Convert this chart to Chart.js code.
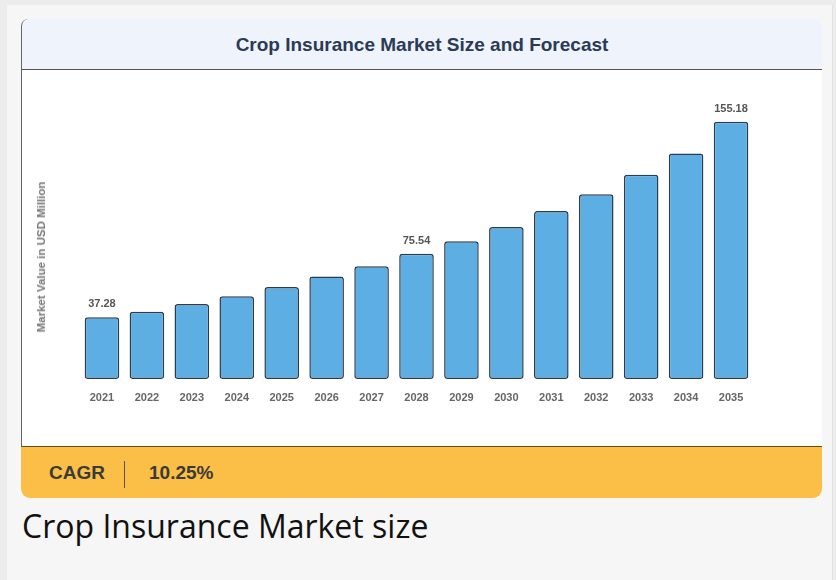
<!DOCTYPE html>
<html>
<head>
<meta charset="utf-8">
<script src="https://cdn.jsdelivr.net/npm/chart.js@4.4.1/dist/chart.umd.min.js"></script>
<style>
  html, body { margin: 0; padding: 0; }
  body { width: 836px; height: 580px; background: #ececec; overflow: hidden; position: relative; }
  .outer { position: absolute; left: 7px; top: 5px; width: 825px; height: 590px; background: #f6f6f6; border-right: 1px solid #e2e2e2; }
  .card { position: absolute; left: 14px; top: 14px; width: 801px; }
  .head { height: 50px; background: #eef3fc; border-radius: 7px 7px 0 0; border-bottom: 1.5px solid #555; border-left: 1.5px solid #666;
          font: bold 19px "Liberation Sans", Arial, sans-serif; color: #2b3a55; text-align: center; line-height: 52px; }
  .body { position: relative; height: 376px; background: #fff; border-left: 1.5px solid #666; }
  .foot { height: 51px; background: #fbbf47; border-top: 1.5px solid #6a4b1c; border-radius: 0 0 9px 9px; position: relative;
          font: bold 19px "Liberation Sans", Arial, sans-serif; color: #3a3a3a; }
  .foot .k { position: absolute; left: 28px; top: 15px; }
  .foot .sep { position: absolute; left: 103px; top: 14px; width: 1px; height: 27px; background: #555; }
  .foot .v { position: absolute; left: 128px; top: 15px; }
  .ytitle { position: absolute; left: 19px; top: 187px; transform: translate(-50%, -50%) rotate(-90deg);
            font: bold 11.5px "Liberation Sans", Arial, sans-serif; color: #777; white-space: nowrap; }
  canvas { position: absolute; left: 0; top: 0; }
  .caption { position: absolute; left: 15px; top: 499px; font: 32px "Open Sans", sans-serif; color: #111; }
</style>
</head>
<body>
<div class="outer">
  <div class="card">
    <div class="head">Crop Insurance Market Size and Forecast</div>
    <div class="body">
      <canvas id="c" width="800" height="376"></canvas>
      <div class="ytitle">Market Value in USD Million</div>
    </div>
    <div class="foot"><span class="k">CAGR</span><span class="sep"></span><span class="v">10.25%</span></div>
  </div>
  <div class="caption">Crop Insurance Market size</div>
</div>
<script>
const years = ['2021','2022','2023','2024','2025','2026','2027','2028','2029','2030','2031','2032','2033','2034','2035'];
const marketValue = [37.28, 40.6, 45.2, 50.0, 55.5, 61.8, 68.0, 75.54, 83.2, 91.7, 101.4, 111.5, 123.2, 136.1, 155.18];
const labelledYears = ['2021', '2028', '2035'];

// value labels over selected bars only
const valueLabels = {
  id: 'valueLabels',
  afterDatasetsDraw(chart) {
    const { ctx } = chart;
    const meta = chart.getDatasetMeta(0);
    ctx.save();
    ctx.font = 'bold 11px "Liberation Sans", Arial, sans-serif';
    ctx.fillStyle = '#555';
    ctx.textAlign = 'center';
    ctx.textBaseline = 'alphabetic';
    meta.data.forEach((bar, i) => {
      if (!labelledYears.includes(years[i])) return;
      ctx.fillText(marketValue[i].toFixed(2), bar.x, bar.y - 10);
    });
    ctx.restore();
  }
};

new Chart(document.getElementById('c'), {
  type: 'bar',
  plugins: [valueLabels],
  data: {
    labels: years,
    datasets: [{
      data: marketValue,
      backgroundColor: '#5daee3',
      borderColor: '#2d3b4c',
      borderWidth: 1.5,
      borderRadius: 3,
      borderSkipped: false,
      barPercentage: 0.77,
      categoryPercentage: 1
    }]
  },
  options: {
    responsive: false,
    animation: false,
    layout: { padding: { left: 57.5, right: 68.5, top: 19, bottom: 0 } },
    plugins: { legend: { display: false }, tooltip: { enabled: false } },
    scales: {
      x: {
        grid: { display: false },
        border: { display: false },
        ticks: { color: '#666', padding: 4, maxRotation: 0, font: { family: '"Liberation Sans", Arial, sans-serif', size: 11, weight: 'bold' } },
        afterFit: s => { s.height = 67; }
      },
      y: { display: false, min: 0, max: 175 }
    }
  }
});
</script>
</body>
</html>
